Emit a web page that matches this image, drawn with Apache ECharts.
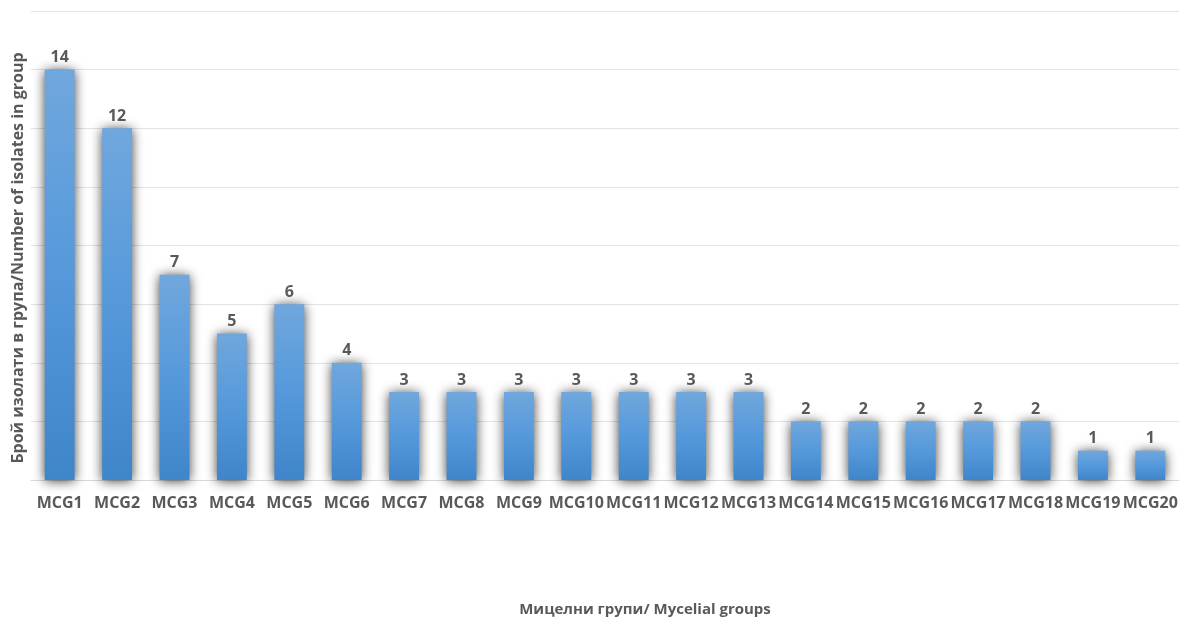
<!DOCTYPE html>
<html>
<head>
<meta charset="utf-8">
<script src="https://cdn.jsdelivr.net/npm/echarts@6/dist/echarts.min.js"></script>
<style>
  html, body { margin: 0; padding: 0; background: #ffffff; }
  #chart { width: 1187px; height: 619px; }
</style>
</head>
<body>
<div id="chart"></div>
<script>
// Mycelial compatibility groups and the number of isolates in each
const groups = ['MCG1','MCG2','MCG3','MCG4','MCG5','MCG6','MCG7','MCG8','MCG9','MCG10',
                'MCG11','MCG12','MCG13','MCG14','MCG15','MCG16','MCG17','MCG18','MCG19','MCG20'];
const isolates = [14, 12, 7, 5, 6, 4, 3, 3, 3, 3, 3, 3, 3, 2, 2, 2, 2, 2, 1, 1];

const yTitle = 'Брой изолати в група/Number of isolates in group';
const xTitle = 'Мицелни групи/ Mycelial groups';

const textGrey = '#595959';
const font = '"Open Sans", "Noto Sans", sans-serif';

const chart = echarts.init(document.getElementById('chart'));
chart.setOption({
  animation: false,
  title: {
    text: xTitle,
    left: 640,
    top: 597,
    textAlign: 'center',
    textStyle: { color: textGrey, fontFamily: font, fontSize: 15, fontWeight: 'bold' }
  },
  graphic: [{
    type: 'text',
    x: 18,
    y: 258,
    rotation: Math.PI / 2,
    style: {
      text: yTitle,
      fill: textGrey,
      font: 'bold 16px ' + font,
      align: 'center',
      verticalAlign: 'middle'
    }
  }],
  grid: { left: 31, right: 8, top: 11, bottom: 139, containLabel: false },
  xAxis: {
    type: 'category',
    data: groups,
    axisTick: { show: false },
    axisLine: { show: true, lineStyle: { color: '#d9d9d9', width: 1 } },
    axisLabel: {
      color: textGrey, fontFamily: font, fontSize: 16, fontWeight: 'bold',
      margin: 15, interval: 0
    }
  },
  yAxis: {
    type: 'value',
    min: 0,
    max: 16,
    interval: 2,
    axisLabel: { show: false },
    axisTick: { show: false },
    axisLine: { show: false },
    splitLine: { lineStyle: { color: '#e3e3e3', width: 1 } }
  },
  series: [{
    type: 'bar',
    data: isolates,
    barWidth: '52%',
    itemStyle: {
      color: new echarts.graphic.LinearGradient(0, 0, 0, 1, [
        { offset: 0, color: '#70a7dd' },
        { offset: 0.5, color: '#5599db' },
        { offset: 1, color: '#3f85c9' }
      ]),
      // soft grey halo around each bar
      shadowColor: 'rgba(0,0,0,0.75)',
      shadowBlur: 12,
      shadowOffsetX: 0,
      shadowOffsetY: 1
    },
    label: {
      show: true,
      position: 'top',
      distance: 4,
      color: textGrey,
      fontFamily: font,
      fontSize: 16,
      fontWeight: 'bold'
    }
  }]
});
</script>
</body>
</html>
